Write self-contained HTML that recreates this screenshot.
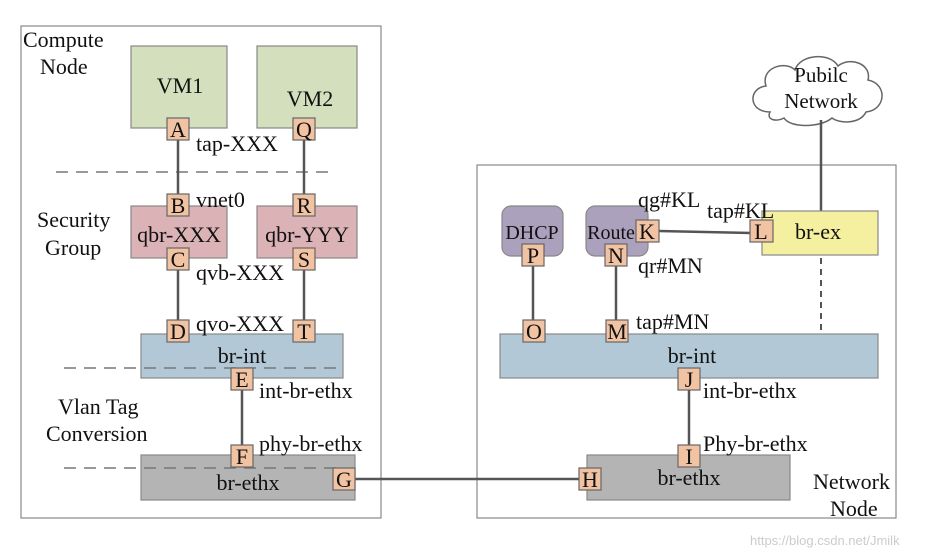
<!DOCTYPE html>
<html><head><meta charset="utf-8"><style>body{margin:0;background:#fff}svg{display:block}text{font-family:"Liberation Serif",serif;font-size:22px;fill:#111}</style></head><body>
<svg width="938" height="556" viewBox="0 0 938 556">
<rect x="21" y="26" width="360" height="492" fill="#fff" stroke="#888" stroke-width="1.2"/>
<rect x="477" y="165" width="419" height="353" fill="#fff" stroke="#888" stroke-width="1.2"/>
<line x1="56" y1="172" x2="336" y2="172" stroke="#777" stroke-width="1.5" stroke-dasharray="12,8"/>
<!-- cloud -->
<path d="M770,112 C748,112 748,88 766,86 C760,68 785,60 795,70 C800,54 830,52 838,66 C850,56 872,64 868,80 C888,84 886,110 866,112 C860,124 840,124 832,118 C820,128 790,128 784,118 C776,122 766,120 770,112 Z" fill="#fff" stroke="#666" stroke-width="1.5"/>
<text x="821" y="82" text-anchor="middle" style="font-size:21px">Pubilc</text>
<text x="821" y="108" text-anchor="middle" style="font-size:21px">Network</text>
<g stroke="#555" stroke-width="2.5">
<line x1="178" y1="140" x2="178" y2="195"/><line x1="304" y1="140" x2="304" y2="195"/>
<line x1="178" y1="270" x2="178" y2="321"/><line x1="304" y1="270" x2="304" y2="321"/>
<line x1="242" y1="390" x2="242" y2="446"/>
<line x1="355" y1="479" x2="580" y2="479"/>
<line x1="689" y1="390" x2="689" y2="446"/>
<line x1="533" y1="266" x2="533" y2="321"/><line x1="616" y1="266" x2="616" y2="321"/>
<line x1="659" y1="231" x2="751" y2="233"/>
<line x1="821" y1="120" x2="821" y2="211"/>
</g>
<g stroke="#888" stroke-width="1.2">
<rect x="131" y="46" width="96" height="82" fill="#d3dfbd"/>
<rect x="257" y="46" width="100" height="82" fill="#d3dfbd"/>
<rect x="131" y="206" width="96" height="52" fill="#dbb2b5"/>
<rect x="257" y="206" width="100" height="52" fill="#dbb2b5"/>
<rect x="141" y="334" width="202" height="44" fill="#b3c8d6"/>
<rect x="141" y="455" width="214" height="45" fill="#b4b4b4"/>
<rect x="500" y="334" width="378" height="44" fill="#b3c8d6"/>
<rect x="587" y="455" width="203" height="45" fill="#b4b4b4"/>
<rect x="502" y="206" width="61" height="50" rx="9" fill="#aba1bd"/>
<rect x="586" y="206" width="62" height="50" rx="9" fill="#aba1bd"/>
<rect x="762" y="211" width="116" height="44" fill="#f5f0a0"/>
</g>
<g stroke="#777" stroke-width="1.5" stroke-dasharray="12,8" fill="none">
<line x1="64" y1="368" x2="340" y2="368"/>
<line x1="64" y1="468" x2="340" y2="468"/>
</g>
<line x1="821" y1="258" x2="821" y2="332" stroke="#555" stroke-width="2" stroke-dasharray="6,5"/>
<text x="180" y="93" text-anchor="middle">VM1</text>
<text x="310" y="106" text-anchor="middle">VM2</text>
<text x="179" y="242" text-anchor="middle">qbr-XXX</text>
<text x="307" y="242" text-anchor="middle">qbr-YYY</text>
<text x="242" y="363" text-anchor="middle">br-int</text>
<text x="248" y="490" text-anchor="middle">br-ethx</text>
<text x="692" y="363" text-anchor="middle">br-int</text>
<text x="689" y="485" text-anchor="middle">br-ethx</text>
<text x="532" y="239" text-anchor="middle" style="font-size:20px">DHCP</text>
<text x="611" y="239" text-anchor="middle" style="font-size:20px">Route</text>
<text x="818" y="239" text-anchor="middle">br-ex</text>
<g stroke="#666" stroke-width="1.2" fill="#f2c3a3">
<rect x="167" y="118" width="22" height="22"/><rect x="293" y="118" width="22" height="22"/>
<rect x="167" y="194" width="22" height="22"/><rect x="293" y="194" width="22" height="22"/>
<rect x="167" y="248" width="22" height="22"/><rect x="293" y="248" width="22" height="22"/>
<rect x="167" y="320" width="22" height="22"/><rect x="293" y="320" width="22" height="22"/>
<rect x="231" y="368" width="22" height="22"/><rect x="231" y="445" width="22" height="22"/>
<rect x="333" y="468" width="22" height="22"/><rect x="579" y="468" width="22" height="22"/>
<rect x="678" y="445" width="22" height="22"/><rect x="678" y="368" width="22" height="22"/>
<rect x="523" y="320" width="22" height="22"/><rect x="606" y="320" width="22" height="22"/>
<rect x="522" y="244" width="22" height="22"/><rect x="605" y="244" width="22" height="22"/>
<rect x="636" y="220" width="23" height="22"/><rect x="750" y="220" width="23" height="22"/>
</g>
<g text-anchor="middle" style="font-size:20px">
<text x="178" y="137">A</text><text x="304" y="137">Q</text>
<text x="178" y="213">B</text><text x="304" y="213">R</text>
<text x="178" y="267">C</text><text x="304" y="267">S</text>
<text x="178" y="339">D</text><text x="304" y="339">T</text>
<text x="242" y="387">E</text><text x="242" y="464">F</text>
<text x="344" y="487">G</text><text x="590" y="487">H</text>
<text x="689" y="464">I</text><text x="689" y="387">J</text>
<text x="534" y="339">O</text><text x="617" y="339">M</text>
<text x="533" y="263">P</text><text x="616" y="263">N</text>
<text x="647" y="239">K</text><text x="761" y="239">L</text>
</g>
<text x="23" y="47">Compute</text><text x="40" y="74">Node</text>
<text x="37" y="227">Security</text><text x="45" y="255">Group</text>
<text x="58" y="414">Vlan Tag</text><text x="46" y="441">Conversion</text>
<text x="813" y="489">Network</text><text x="830" y="516">Node</text>
<text x="196" y="151">tap-XXX</text>
<text x="196" y="207">vnet0</text>
<text x="196" y="280">qvb-XXX</text>
<text x="196" y="331">qvo-XXX</text>
<text x="259" y="398">int-br-ethx</text>
<text x="259" y="451">phy-br-ethx</text>
<text x="638" y="207">qg#KL</text>
<text x="707" y="218">tap#KL</text>
<text x="638" y="273">qr#MN</text>
<text x="636" y="329">tap#MN</text>
<text x="703" y="398">int-br-ethx</text>
<text x="703" y="451">Phy-br-ethx</text>
<text x="750" y="545" style="font-family:'Liberation Sans',sans-serif;font-size:13px;fill:#ccc">https://blog.csdn.net/Jmilk</text>
</svg>
</body></html>
